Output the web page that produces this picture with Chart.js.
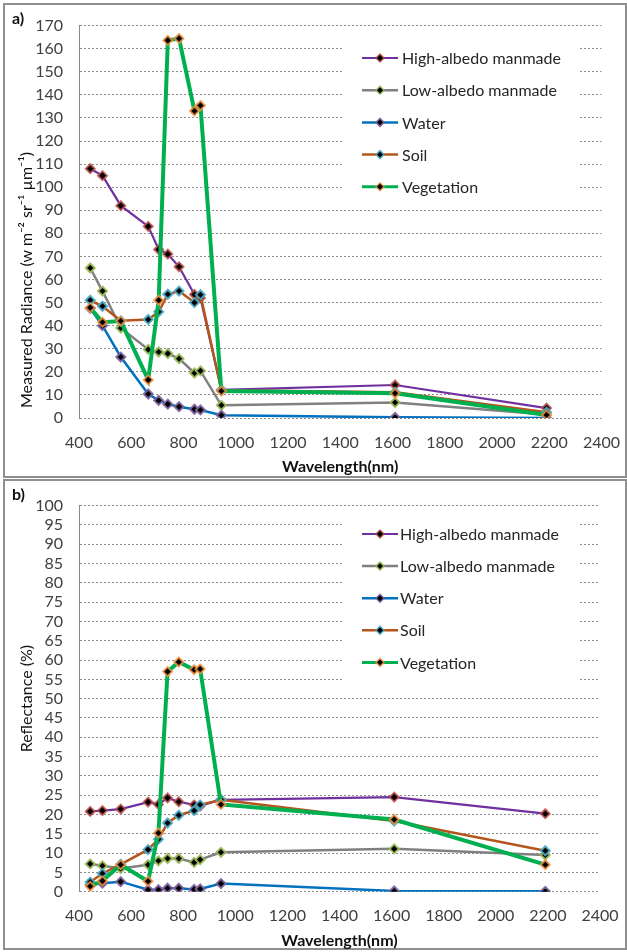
<!DOCTYPE html>
<html>
<head>
<meta charset="utf-8">
<script src="https://cdn.jsdelivr.net/npm/chart.js@4.4.0/dist/chart.umd.min.js"></script>
<style>
  body { margin: 0; background: #fff; }
  .frame { position: absolute; left: 3px; width: 620px; border: 2px solid #8f8f8f; }
  #frame-a { top: 3px; height: 471px; }
  #frame-b { top: 479px; height: 467px; }
  canvas { position: absolute; left: 0; }
  #radiance-chart { top: 0; }
  #reflectance-chart { top: 480px; }
  .tag { position: absolute; left: 12px; font: bold 16px Lato, sans-serif; color: #111; }
</style>
</head>
<body>
<div class="frame" id="frame-a"></div>
<div class="frame" id="frame-b"></div>
<canvas id="radiance-chart" width="627" height="478"></canvas>
<canvas id="reflectance-chart" width="627" height="472"></canvas>
<div class="tag" style="top:8px">a)</div>
<div class="tag" style="top:484px">b)</div>
<script>
// Sentinel-2 band centres (nm)
const wavelengths = [443, 490, 560, 665, 705, 740, 783, 842, 865, 945, 1610, 2190];
const seriesNames = ['High-albedo manmade', 'Low-albedo manmade', 'Water', 'Soil', 'Vegetation'];

// a) measured radiance
const highRadiance  = [108, 105, 92, 83, 73, 71, 65.5, 53.5, 52, 12.2, 14.3, 4.3];
const lowRadiance   = [65, 55, 39, 29.7, 28.6, 27.9, 25.7, 19.5, 20.4, 5.5, 6.7, 1.5];
const waterRadiance = [47.5, 40, 26.4, 10.4, 7.6, 6, 4.9, 3.8, 3.5, 1.2, 0.3, 0];
const soilRadiance  = [51, 48.4, 42.1, 42.7, 46, 53.6, 55, 50, 53.4, 12, 11.2, 2.5];
const vegRadiance   = [47.8, 41.5, 42, 16.5, 51, 163.6, 164.4, 133, 135.4, 11.7, 10.7, 1.3];

// b) reflectance
const highReflect  = [20.8, 21, 21.4, 23.2, 22.6, 24.3, 23.3, 22.5, 22.2, 23.8, 24.5, 20.2];
const lowReflect   = [7.2, 6.7, 6.0, 7, 8, 8.6, 8.6, 7.6, 8.3, 10.2, 11.1, 9.5];
const waterReflect = [1.8, 2.2, 2.6, 0.5, 0.5, 0.9, 0.9, 0.6, 0.7, 2.1, 0.2, 0.1];
const soilReflect  = [2.5, 4.7, 7.1, 10.9, 13.6, 17.8, 19.8, 21, 22.5, 23.8, 18.3, 10.6];
const vegReflect   = [1.4, 2.8, 7, 2.7, 15.2, 57, 59.5, 57.5, 57.7, 22.6, 18.7, 7];

// look of each series (Excel 2007 style)
const lineColors   = ['#7030A0', '#808080', '#0070C0', '#B4561B', '#00B050'];
const markerEdges  = ['rgba(192,80,77,0.8)', 'rgba(155,187,89,0.9)', 'rgba(128,100,162,0.9)', 'rgba(75,172,198,0.9)', 'rgba(247,150,70,0.8)'];
const lineWidths   = [2.2, 2.5, 2.5, 2.5, 4];

Chart.defaults.font.family = 'Lato, sans-serif';
Chart.defaults.color = '#404040';

// legend drawn inside the plot with a white box, like the Excel original
const boxLegend = {
  id: 'boxLegend',
  afterDraw(chart, args, opts) {
    const ctx = chart.ctx;
    ctx.save();
    ctx.fillStyle = '#fff';
    ctx.fillRect(opts.x, opts.y, opts.w, opts.h);
    ctx.font = '16px Lato, sans-serif';
    ctx.textBaseline = 'middle';
    chart.data.datasets.forEach((ds, i) => {
      const y = opts.firstRow + i * opts.rowGap;
      ctx.strokeStyle = ds.borderColor;
      ctx.lineWidth = Math.min(ds.borderWidth, 3);
      ctx.beginPath();
      ctx.moveTo(opts.lineX, y);
      ctx.lineTo(opts.lineX + 36, y);
      ctx.stroke();
      const cx = opts.lineX + 18, r = 4;
      ctx.beginPath();
      ctx.moveTo(cx - r, y); ctx.lineTo(cx, y - r); ctx.lineTo(cx + r, y); ctx.lineTo(cx, y + r);
      ctx.closePath();
      ctx.fillStyle = '#000';
      ctx.fill();
      ctx.strokeStyle = ds.pointBorderColor;
      ctx.lineWidth = 1.5;
      ctx.stroke();
      ctx.fillStyle = '#262626';
      ctx.fillText(ds.label, opts.textX, y + 1);
    });
    ctx.restore();
  }
};

function makeDatasets(seriesList) {
  return seriesList.map((values, i) => ({
    label: seriesNames[i],
    data: wavelengths.map((w, j) => ({ x: w, y: values[j] })),
    borderColor: lineColors[i],
    borderWidth: lineWidths[i],
    pointStyle: 'rectRot',
    pointRadius: 4.5,
    pointBorderWidth: 2,
    pointBackgroundColor: '#000',
    pointBorderColor: markerEdges[i],
    tension: 0,
    order: 5 - i   // later series on top
  }));
}

function makeOptions(yMax, yStep, yTitle, titleAlign, padTop, padRight, xHeight, legendBox) {
  const dotted = '#8a8a8a';
  return {
    responsive: false,
    animation: false,
    events: [],
    layout: { padding: { top: padTop, right: padRight, left: 0, bottom: 0 } },
    scales: {
      x: {
        type: 'linear', min: 400, max: 2400,
        ticks: { stepSize: 200, padding: 7, font: { size: 16 }, maxRotation: 0, callback: v => String(v) },
        grid: { display: false },
        border: { display: false },
        title: { display: true, text: 'Wavelength(nm)', font: { size: 16, weight: 'bold' }, color: '#111', padding: { top: 0, bottom: 2 } },
        afterFit(scale) { scale.height = xHeight; }
      },
      y: {
        min: 0, max: yMax,
        ticks: { stepSize: yStep, autoSkip: false, padding: 16, font: { size: 16 } },
        grid: { color: dotted, drawTicks: false, lineWidth: 1 },
        border: { display: true, color: dotted, dash: [2, 2] },
        title: { display: true, text: yTitle, align: titleAlign, font: { size: 16 }, color: '#111', padding: { top: 17, bottom: 0 } },
        afterFit(scale) { scale.width = 79; }
      }
    },
    plugins: {
      legend: { display: false },
      tooltip: { enabled: false },
      boxLegend: legendBox
    }
  };
}

window.addEventListener('load', function () {
  new Chart(document.getElementById('radiance-chart').getContext('2d'), {
    type: 'line',
    data: { datasets: makeDatasets([highRadiance, lowRadiance, waterRadiance, soilRadiance, vegRadiance]) },
    options: makeOptions(170, 10, '\u2002\u2009Measured Radiance (w m\u207B\u00B2 sr\u207B\u00B9 \u00B5m\u207B\u00B9)', 'start', 19, 25, 60,
      { x: 342, y: 26, w: 236, h: 176, firstRow: 58, rowGap: 32.2, lineX: 362, textX: 402 }),
    plugins: [boxLegend]
  });

  new Chart(document.getElementById('reflectance-chart').getContext('2d'), {
    type: 'line',
    data: { datasets: makeDatasets([highReflect, lowReflect, waterReflect, soilReflect, vegReflect]) },
    options: makeOptions(100, 5, 'Reflectance (%)', 'center', 15.3, 27, 60.3,
      { x: 342, y: 40, w: 236, h: 160, firstRow: 54, rowGap: 32.1, lineX: 362, textX: 400 }),
    plugins: [boxLegend]
  });
});
</script>
</body>
</html>
